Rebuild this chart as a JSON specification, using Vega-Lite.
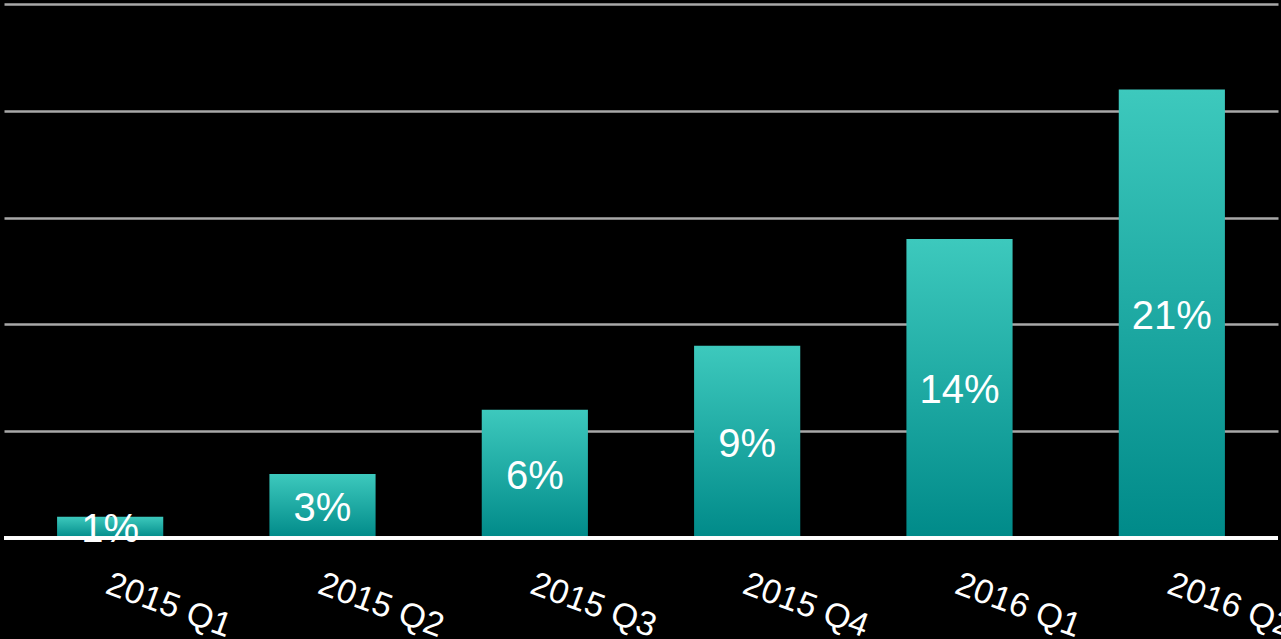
{
  "$schema": "https://vega.github.io/schema/vega-lite/v6.json",
  "width": 1274,
  "height": 534,
  "autosize": {"type": "none"},
  "padding": {"left": 4, "top": 4, "right": 3, "bottom": 101},
  "background": "#000000",
  "config": {
    "view": {"stroke": null},
    "font": "Liberation Sans"
  },
  "data": {
    "values": [
      {"quarter": "2015 Q1", "share": 1, "label": "1%"},
      {"quarter": "2015 Q2", "share": 3, "label": "3%"},
      {"quarter": "2015 Q3", "share": 6, "label": "6%"},
      {"quarter": "2015 Q4", "share": 9, "label": "9%"},
      {"quarter": "2016 Q1", "share": 14, "label": "14%"},
      {"quarter": "2016 Q2", "share": 21, "label": "21%"}
    ]
  },
  "resolve": {"scale": {"y": "independent"}},
  "layer": [
    {
      "layer": [
        {
          "mark": {
            "type": "bar",
            "color": {
              "gradient": "linear",
              "x1": 0, "y1": 0, "x2": 0, "y2": 1,
              "stops": [
                {"offset": 0, "color": "#3dc9bd"},
                {"offset": 1, "color": "#008a89"}
              ]
            }
          },
          "encoding": {
            "x": {
              "field": "quarter",
              "type": "nominal",
              "sort": null,
              "scale": {"paddingInner": 0.5, "paddingOuter": 0.25},
              "axis": {
                "title": null,
                "labelAngle": 20,
                "labelAlign": "left",
                "labelBaseline": "top",
                "labelFontSize": 34,
                "labelColor": "#ffffff",
                "labelFont": "Liberation Sans",
                "labelPadding": 29,
                "labelOffset": 3,
                "ticks": false,
                "domain": false,
                "grid": false
              }
            },
            "y": {
              "field": "share",
              "type": "quantitative",
              "scale": {"domain": [0, 25], "nice": false},
              "axis": {
                "title": null,
                "labels": false,
                "ticks": false,
                "domain": false,
                "values": [5, 10, 15, 20, 25],
                "grid": true,
                "gridColor": "#a8a8a8",
                "gridWidth": 2.5,
                "gridOpacity": 1
              }
            }
          }
        },
        {
          "mark": {"type": "rule", "color": "#ffffff", "strokeWidth": 3},
          "encoding": {
            "y": {"datum": 0, "type": "quantitative"}
          }
        }
      ]
    },
    {
      "mark": {
        "type": "text",
        "color": "#ffffff",
        "fontSize": 40,
        "font": "Liberation Sans",
        "baseline": "middle",
        "align": "center",
        "dy": 3
      },
      "encoding": {
        "x": {"field": "quarter", "type": "nominal", "sort": null},
        "y": {
          "field": "share",
          "type": "quantitative",
          "scale": {"domain": [0, 50], "nice": false},
          "axis": null
        },
        "text": {"field": "label"}
      }
    }
  ]
}
